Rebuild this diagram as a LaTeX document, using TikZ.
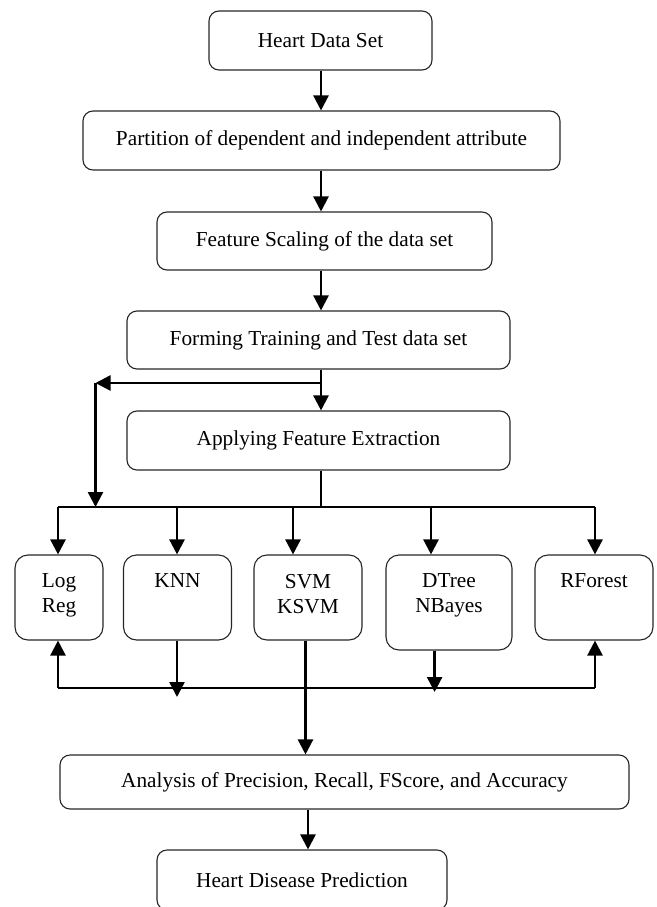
\documentclass[tikz,border=0pt]{standalone}
\usepackage{fontspec}
\setmainfont{Liberation Serif}
\usetikzlibrary{arrows.meta}
\newcommand\algbox[3]{\parbox[c][#2][t]{#1}{\vspace*{19pt}\centering #3}}
\begin{document}
\begin{tikzpicture}[x=1pt,y=-1pt,
  box/.style={draw=black!85, line width=1.1pt, rounded corners=10pt, inner sep=0pt,
    font=\fontsize{21.3}{25}\selectfont, align=center},
  algo/.style={draw=black!85, line width=1.1pt, rounded corners=13pt, inner sep=0pt,
    font=\fontsize{21.3}{25}\selectfont},
  conn/.style={line width=2.4pt},
  arr/.style={line width=2.4pt, -{Triangle[length=15pt,width=15pt]}}]
\useasboundingbox (0,0) rectangle (656,907);
\clip (0,0) rectangle (656,907);
% main boxes
\node[box, minimum width=223pt, minimum height=59pt] (b1) at (320.5,40.5) {Heart Data Set};
\node[box, minimum width=477pt, minimum height=59pt] (b2) at (321.5,140.5) {Partition of dependent and independent attribute};
\node[box, minimum width=335pt, minimum height=58pt] (b3) at (324.5,241) {Feature Scaling of the data set};
\node[box, minimum width=383pt, minimum height=58pt] (b4) at (318.5,340) {Forming Training and Test data set};
\node[box, minimum width=383pt, minimum height=59pt] (b5) at (318.5,440.5) {Applying Feature Extraction};
% algorithm boxes
\node[algo] (lr)  at (59,597.5)   {\algbox{88pt}{85pt}{Log\\Reg}};
\node[algo] (knn) at (177.5,597.5) {\algbox{108pt}{85pt}{KNN}};
\node[algo] (svm) at (308,597.5)  {\algbox{108pt}{85pt}{SVM\\KSVM}};
\node[algo] (dt)  at (449,602.5)  {\algbox{126pt}{95pt}{DTree\\NBayes}};
\node[algo] (rf)  at (594,597.5)  {\algbox{118pt}{85pt}{RForest}};
% analysis and prediction
\node[box, minimum width=569pt, minimum height=54pt] (an) at (344.5,782) {Analysis of Precision, Recall, FScore, and Accuracy};
\node[box, minimum width=290pt, minimum height=60pt] (hd) at (302,880) {Heart Disease Prediction};
% coordinates
\coordinate (sp) at (321,0);
\coordinate (j1) at (321,383);
\coordinate (jl) at (95.5,383);
\coordinate (bt) at (321,507);
\coordinate (btl) at (58,507);
\coordinate (btr) at (595,507);
\coordinate (kin) at (177,507);
\coordinate (sin) at (293,507);
\coordinate (din) at (431,507);
\coordinate (bbl) at (58,688);
\coordinate (bbr) at (595,688);
\coordinate (kout) at (177,697);
\coordinate (dout) at (434.6,692);
\coordinate (sout) at (305.5,0);
\coordinate (aout) at (308,0);
% main chain
\draw[arr] (b1.south -| sp) -- (b2.north -| sp);
\draw[arr] (b2.south -| sp) -- (b3.north -| sp);
\draw[arr] (b3.south -| sp) -- (b4.north -| sp);
\draw[conn] (b4.south -| sp) -- (j1);
\draw[arr] (j1) -- (b5.north -| j1);
\draw[arr] (j1) -- (jl);
\draw[arr] (jl) -- (jl |- bt);
% distribution bar
\draw[conn] (b5.south -| bt) -- (bt);
\draw[conn] (btl) -- (btr);
\draw[arr] (btl) -- (lr.north -| btl);
\draw[arr] (kin) -- (knn.north -| kin);
\draw[arr] (sin) -- (svm.north -| sin);
\draw[arr] (din) -- (dt.north -| din);
\draw[arr] (btr) -- (rf.north -| btr);
% collection bar
\draw[conn] (bbl) -- (bbr);
\draw[arr] (bbl) -- (lr.south -| bbl);
\draw[arr] (bbr) -- (rf.south -| bbr);
\draw[arr] (knn.south -| kout) -- (kout);
\draw[arr] (dt.south -| dout) -- (dout);
\draw[arr] (svm.south -| sout) -- (an.north -| sout);
\draw[arr] (an.south -| aout) -- (hd.north -| aout);
\end{tikzpicture}
\end{document}
